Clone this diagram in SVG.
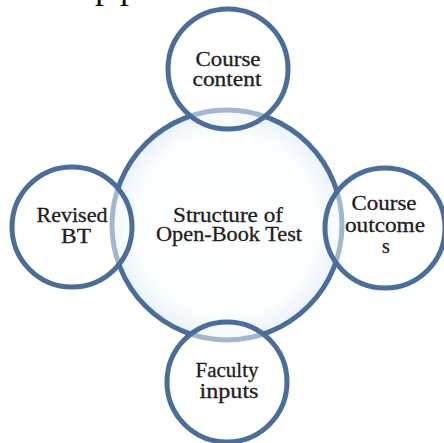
<svg xmlns="http://www.w3.org/2000/svg" width="444" height="443" viewBox="0 0 444 443">
<defs>
<radialGradient id="fillg" cx="50%" cy="50%" r="50%">
<stop offset="0%" stop-color="#ffffff"/>
<stop offset="80%" stop-color="#fbfdff"/>
<stop offset="100%" stop-color="#e9f2fb"/>
</radialGradient>
<style>
.big{fill:url(#fillg);stroke:#4a6e98;stroke-width:5}
.sm{fill:#ffffff;fill-opacity:0.5;stroke:#4a6e98;stroke-width:5}
.t{font-family:"Liberation Serif","Times New Roman",serif;font-size:20px;fill:#1e1e1e;stroke:#1e1e1e;stroke-width:0.3;text-anchor:middle}
.frag{font-family:"Liberation Serif","Times New Roman",serif;font-size:36px;fill:#111111}
</style>
</defs>
<rect width="444" height="443" fill="#ffffff"/>
<text class="frag" y="-2"><tspan x="-10">p</tspan><tspan x="95">p</tspan><tspan x="120">p</tspan></text>
<g id="center">
<circle class="big" cx="227" cy="225" r="115"/>
<text class="t" x="228" y="222" textLength="110" lengthAdjust="spacingAndGlyphs">Structure of</text>
<text class="t" x="229" y="241" textLength="146" lengthAdjust="spacingAndGlyphs">Open-Book Test</text>
</g>
<g id="top">
<circle class="sm" cx="228" cy="69" r="60"/>
<text class="t" x="228" y="66" textLength="65" lengthAdjust="spacingAndGlyphs">Course</text>
<text class="t" x="227" y="86" textLength="69" lengthAdjust="spacingAndGlyphs">content</text>
</g>
<g id="left">
<circle class="sm" cx="72" cy="227" r="60"/>
<text class="t" x="72" y="222" textLength="71" lengthAdjust="spacingAndGlyphs">Revised</text>
<text class="t" x="76" y="243" textLength="30" lengthAdjust="spacingAndGlyphs">BT</text>
</g>
<g id="right">
<circle class="sm" cx="385" cy="228" r="60"/>
<text class="t" x="384" y="210" textLength="65" lengthAdjust="spacingAndGlyphs">Course</text>
<text class="t" x="385" y="232" textLength="80" lengthAdjust="spacingAndGlyphs">outcome</text>
<text class="t" x="386" y="253">s</text>
</g>
<g id="bottom">
<circle class="sm" cx="227" cy="382" r="60"/>
<text class="t" x="227" y="377" textLength="63" lengthAdjust="spacingAndGlyphs">Faculty</text>
<text class="t" x="229" y="398" textLength="59" lengthAdjust="spacingAndGlyphs">inputs</text>
</g>
</svg>
